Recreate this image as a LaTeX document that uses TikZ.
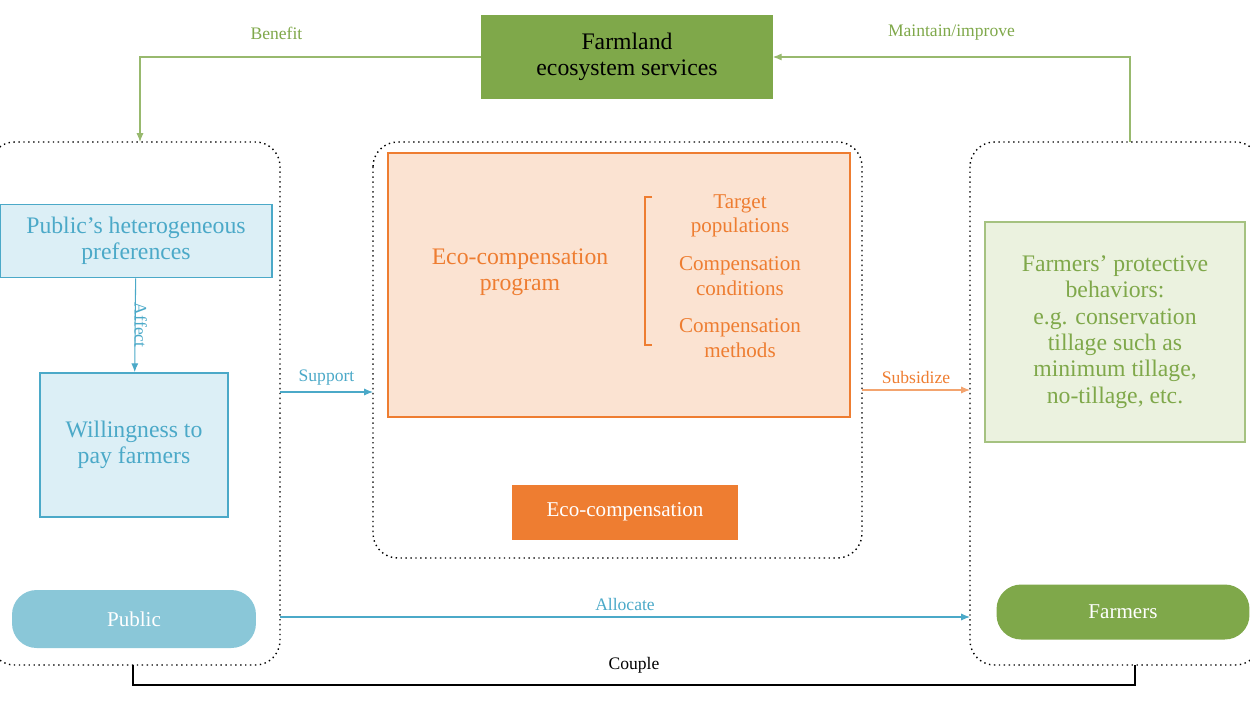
\documentclass[tikz,border=0pt]{standalone}
\usepackage{fontspec}
\setmainfont{Liberation Serif}
\usetikzlibrary{arrows.meta}
\definecolor{grn}{HTML}{7FA84A}
\definecolor{lgrn}{HTML}{EBF2DF}
\definecolor{blu}{HTML}{4BA9C8}
\definecolor{lblu}{HTML}{DCEFF6}
\definecolor{oblu}{HTML}{8AC7D8}
\definecolor{org}{HTML}{EE7D31}
\definecolor{lorg}{HTML}{FBE3D2}
\tikzset{
  box/.style={draw, line width=1pt, align=center, inner sep=2pt, font=\fontsize{13.5}{15}\selectfont},
  container/.style={draw, dotted, line width=0.8pt, rounded corners=14pt},
  oval/.style={rounded corners=14pt, text=white, font=\large},
  lbl/.style={font=\normalsize},
  arr/.style={-{Latex[length=5pt,width=4pt]}, line width=0.6pt}
}
\begin{document}
\begin{tikzpicture}[x=0.02cm,y=-0.02cm]
            \useasboundingbox (0,0) rectangle (1250,700);

            \draw[container] (-10,142) rectangle (280,665);
            \draw[container] (373,142) rectangle (862,558);
            \draw[container] (970,142) rectangle (1260,665);
            \coordinate (L) at (140,142);
            \coordinate (R) at (1130,142);

            \node[box, draw=grn, fill=grn, minimum width=5.8cm, minimum height=1.66cm] (farm) at (627,57) {Farmland\\ecosystem services};

            \node[box, draw=blu, fill=lblu, text=blu, minimum width=5.44cm, minimum height=1.46cm] (pref) at (136,241) {Public's heterogeneous\\preferences};
            \node[box, draw=blu, fill=lblu, text=blu, minimum width=3.76cm, minimum height=2.88cm] (will) at (134,445) {Willingness to\\pay farmers};
            \node[oval, fill=oblu, minimum width=4.88cm, minimum height=1.16cm] (public) at (134,619) {Public};

            \node[box, draw=org, fill=lorg, minimum width=9.24cm, minimum height=5.28cm] (prog) at (619,285) {};
            \node[text=org, align=center, font=\fontsize{13.5}{15}\selectfont] (ecop) at (520,272) {Eco-compensation\\program};
            \draw[org, line width=0.6pt] (652,197) -- (645,197) -- (645,345) -- (652,345);
            \node[text=org, align=center, font=\large, inner sep=0pt] (t1) at (740,216) {Target\\populations};
            \node[text=org, align=center, font=\large, inner sep=0pt] (t2) at (740,276) {Compensation\\conditions};
            \node[text=org, align=center, font=\large, inner sep=0pt] (t3) at (740,338) {Compensation\\methods};
            \node[fill=org, text=white, minimum width=4.52cm, minimum height=1.1cm, font=\large] (eco) at (625,512) {Eco-compensation};

            \node[box, draw=grn!70, fill=lgrn, text=grn, minimum width=5.2cm, minimum height=4.4cm] (prot) at (1115,332) {Farmers' protective\\behaviors:\\e.g. conservation\\tillage such as\\minimum tillage,\\no-tillage, etc.};
            \node[oval, fill=grn, minimum width=5.06cm, minimum height=1.1cm] (farmers) at (1123,612) {Farmers};

            \draw[arr, grn!80] (farm.west) -| node[pos=0.3, above=6pt, lbl, text=grn] {Benefit} (L);
            \draw[arr, grn!80] (R) |- node[pos=0.75, above=6pt, lbl, text=grn] {Maintain/improve} (farm.east);
            \draw[arr, blu] (pref) -- node[right, rotate=-90, anchor=south, yshift=-4pt, lbl] {Affect} (will);
            \draw[arr, blu] (280,392) -- node[above, lbl] {Support} (373,392);
            \draw[arr, org!70] (862,390) -- node[above, lbl, text=org] {Subsidize} (970,390);
            \draw[arr, blu] (280,617) -- node[above, lbl] {Allocate} (970,617);
            \draw[line width=0.8pt] (133,665) -- (133,685) -- node[above=3pt, lbl] {Couple} (1135,685) -- (1135,665);
        \end{tikzpicture}
\end{document}
